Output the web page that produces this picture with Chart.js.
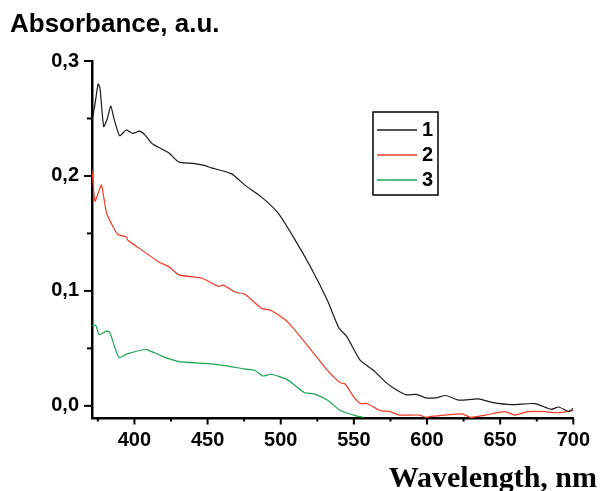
<!DOCTYPE html>
<html>
<head>
<meta charset="utf-8">
<title>Absorbance spectra</title>
<script src="https://cdn.jsdelivr.net/npm/chart.js@4.4.1/dist/chart.umd.min.js"></script>
<style>
  html, body { margin: 0; padding: 0; background: #fff; }
  #chart { display: block; }
</style>
</head>
<body>
<canvas id="chart" width="600" height="491"></canvas>
<script>
// ============================================
// البيانات (مقروءة من الصورة)
// ============================================

const seriesLabels = ["1", "2", "3"];
const seriesColors = ["#1a1a1a", "#ee3a26", "#1da352"];

// curve 1 (black)
const wl1 = [371, 373, 375.2, 376.5, 379, 381.5, 383.8, 386, 389.9, 394.4, 398.9, 403.4, 407, 412.2, 423.6, 430.4, 440, 448.4, 452.7, 466.2, 475.5, 486.5, 498, 510, 520.3, 531.8, 539.7, 545.3, 554.1, 563.3, 572.3, 579, 585.8, 592.6, 599.3, 606, 612.8, 621.6, 635.1, 644.4, 657.9, 673.6, 684.9, 690, 697, 700];
const abs1 = [0.248, 0.262, 0.280, 0.276, 0.243, 0.250, 0.261, 0.250, 0.235, 0.240, 0.237, 0.239, 0.236, 0.228, 0.220, 0.212, 0.211, 0.209, 0.207, 0.202, 0.192, 0.182, 0.168, 0.144, 0.121, 0.092, 0.068, 0.060, 0.040, 0.031, 0.020, 0.014, 0.0096, 0.010, 0.007, 0.007, 0.009, 0.005, 0.006, 0.003, 0.001, 0.002, -0.003, -0.001, -0.005, -0.002];

// curve 2 (red)
const wl2 = [371, 373, 375.5, 377.5, 380.9, 385.3, 388.7, 394.4, 395.5, 403.4, 416.9, 423.6, 430.4, 446.2, 457.4, 460.8, 468.7, 475.5, 486.7, 493.4, 504.7, 520.5, 531.8, 540.7, 544, 549.8, 554.3, 558.8, 567.8, 574.5, 581.3, 594.8, 599.3, 603.8, 612.8, 624.1, 629.7, 639.9, 653.4, 660.1, 669.1, 680.4, 689.4, 700];
const abs2 = [0.205, 0.178, 0.186, 0.192, 0.168, 0.156, 0.149, 0.147, 0.144, 0.137, 0.125, 0.121, 0.114, 0.111, 0.104, 0.105, 0.099, 0.097, 0.085, 0.083, 0.073, 0.049, 0.031, 0.020, 0.019, 0.008, 0.002, 0.002, -0.004, -0.005, -0.008, -0.008, -0.010, -0.009, -0.008, -0.007, -0.010, -0.008, -0.005, -0.008, -0.005, -0.005, -0.006, -0.004];

// curve 3 (green)
const wl3 = [371, 373.6, 375.9, 380.9, 383.1, 389.4, 394.4, 407.9, 419.1, 430.4, 448.4, 462, 475.5, 482.2, 487.8, 493.4, 504.7, 516, 522.8, 531.8, 540.7, 549.8, 556.5];
const abs3 = [0.070, 0.070, 0.062, 0.065, 0.064, 0.042, 0.045, 0.049, 0.043, 0.0385, 0.037, 0.035, 0.032, 0.031, 0.026, 0.0275, 0.0226, 0.0116, 0.0104, 0.005, -0.004, -0.008, -0.010];

// ticks
const xTicks = [400, 450, 500, 550, 600, 650, 700];
const xMinorTicks = [375, 425, 475, 525, 575, 625, 675];
const yTicks = [0.0, 0.1, 0.2, 0.3];
const yMinorTicks = [0.05, 0.15, 0.25];

// ============================================
// دوال مساعدة
// ============================================

function toPoints(xs, ys) {
  return xs.map((x, i) => ({ x: x, y: ys[i] }));
}

// علامات المحاور (رئيسية وثانوية)
const axisMarks = {
  id: "axisMarks",
  afterDraw(chart) {
    const { ctx, chartArea, scales } = chart;
    ctx.save();
    ctx.strokeStyle = "#000";
    ctx.lineWidth = 2;
    const tick = (x1, y1, x2, y2) => {
      ctx.beginPath();
      ctx.moveTo(x1, y1);
      ctx.lineTo(x2, y2);
      ctx.stroke();
    };
    xTicks.forEach((v) => {
      const px = scales.x.getPixelForValue(v);
      tick(px, chartArea.bottom, px, chartArea.bottom + 6);
    });
    xMinorTicks.forEach((v) => {
      const px = scales.x.getPixelForValue(v);
      tick(px, chartArea.bottom, px, chartArea.bottom + 3);
    });
    yTicks.forEach((v) => {
      const py = scales.y.getPixelForValue(v);
      tick(chartArea.left, py, chartArea.left - 8, py);
    });
    yMinorTicks.forEach((v) => {
      const py = scales.y.getPixelForValue(v);
      tick(chartArea.left, py, chartArea.left - 5, py);
    });
    ctx.restore();
  },
};

// عناوين المحاور + وسيلة الإيضاح
const labelsAndLegend = {
  id: "labelsAndLegend",
  afterDraw(chart) {
    const { ctx } = chart;
    ctx.save();
    ctx.fillStyle = "#000";
    ctx.textBaseline = "alphabetic";

    ctx.font = "bold 26px Arial, 'Liberation Sans', sans-serif";
    ctx.textAlign = "left";
    ctx.fillText("Absorbance, a.u.", 10, 32);

    ctx.font = "bold 30px 'Times New Roman', 'Liberation Serif', serif";
    ctx.textAlign = "right";
    ctx.fillText("Wavelength, nm", 597, 487);

    // legend box
    ctx.lineWidth = 1.5;
    ctx.strokeStyle = "#000";
    ctx.strokeRect(373, 112, 65, 83);
    ctx.font = "bold 20px Arial, 'Liberation Sans', sans-serif";
    ctx.textAlign = "left";
    ctx.textBaseline = "middle";
    chart.data.datasets.forEach((ds, i) => {
      const y = 130 + i * 25;
      ctx.strokeStyle = ds.borderColor;
      ctx.lineWidth = 1.3;
      ctx.beginPath();
      ctx.moveTo(377, y);
      ctx.lineTo(417, y);
      ctx.stroke();
      ctx.fillText(ds.label, 422, y);
    });
    ctx.restore();
  },
};

// ============================================
// الرسم
// ============================================

const tickFont = { family: "Arial, 'Liberation Sans', sans-serif", size: 20, weight: "bold" };

const ctx = document.getElementById("chart").getContext("2d");
new Chart(ctx, {
  type: "line",
  data: {
    datasets: [
      { label: seriesLabels[0], data: toPoints(wl1, abs1), borderColor: seriesColors[0] },
      { label: seriesLabels[1], data: toPoints(wl2, abs2), borderColor: seriesColors[1] },
      { label: seriesLabels[2], data: toPoints(wl3, abs3), borderColor: seriesColors[2] },
    ],
  },
  options: {
    responsive: false,
    animation: false,
    layout: { padding: { left: 0, right: 21, top: 61, bottom: 0 } },
    elements: {
      line: { borderWidth: 1.2, tension: 0.2, fill: false },
      point: { radius: 0 },
    },
    plugins: {
      legend: { display: false },
      tooltip: { enabled: false },
      title: { display: false },
    },
    scales: {
      x: {
        type: "linear",
        min: 371,
        max: 700,
        afterBuildTicks: (scale) => {
          scale.ticks = xTicks.map((v) => ({ value: v }));
        },
        afterFit: (scale) => {
          scale.height = 72.5;
        },
        ticks: {
          font: tickFont,
          color: "#000",
          padding: 10,
          maxRotation: 0,
          autoSkip: false,
          callback: (v) => String(v),
        },
        grid: { display: false, drawTicks: false },
        border: { display: true, color: "#000", width: 2.5 },
      },
      y: {
        type: "linear",
        min: -0.011,
        max: 0.3,
        afterBuildTicks: (scale) => {
          scale.ticks = yTicks.map((v) => ({ value: v }));
        },
        afterFit: (scale) => {
          scale.width = 92;
        },
        ticks: {
          font: tickFont,
          color: "#000",
          padding: 13,
          autoSkip: false,
          callback: (v) => Number(v).toFixed(1).replace(".", ","),
        },
        grid: { display: false, drawTicks: false },
        border: { display: true, color: "#000", width: 2.5 },
      },
    },
  },
  plugins: [axisMarks, labelsAndLegend],
});
</script>
</body>
</html>
